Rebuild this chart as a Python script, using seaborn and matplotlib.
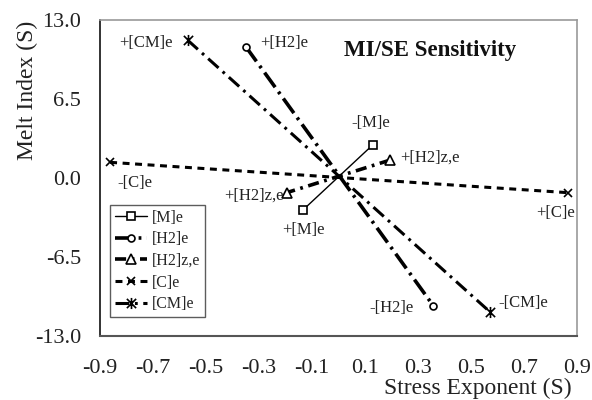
import matplotlib
matplotlib.use("Agg")
import matplotlib.pyplot as plt
from matplotlib.path import Path
import seaborn as sns
import pandas as pd

# Sensitivity end points: "+" perturbation and "-" perturbation for each factor
series = ["[M]e", "[H2]e", "[H2]z,e", "[C]e", "[CM]e"]
plus_x = [-0.133, -0.35, 0.195, -0.862, -0.57]
plus_y = [-2.6, 10.8, 1.48, 1.29, 11.35]
minus_x = [0.13, 0.357, -0.195, 0.867, 0.57]
minus_y = [2.75, -10.5, -1.2, -1.21, -11.0]

# Point labels (text, x, y)
label_text = ["+[CM]e", "+[H2]e", "-[M]e", "+[H2]z,e", "+[H2]z,e",
              "+[M]e", "-[C]e", "+[C]e", "-[H2]e", "-[CM]e"]
label_x = [-0.625, -0.296, 0.123, 0.232, -0.206, -0.134, -0.836, 0.817, 0.198, 0.602]
label_y = [11.1, 11.1, 4.5, 1.64, -1.45, -4.3, -0.42, -2.88, -10.7, -10.3]
label_ha = ["right", "left", "center", "left", "right", "center", "left", "center", "center", "left"]

x_ticks = [-0.9, -0.7, -0.5, -0.3, -0.1, 0.1, 0.3, 0.5, 0.7, 0.9]
y_ticks = [-13.0, -6.5, 0.0, 6.5, 13.0]

sns.set_theme(style="white")
plt.rcParams["font.family"] = ["Liberation Serif", "DejaVu Serif"]
plt.rcParams["lines.scale_dashes"] = False

# asterisk marker: an x with a vertical bar
star = Path([(-1, -1), (1, 1), (-1, 1), (1, -1), (0, -1.2), (0, 1.2)],
            [Path.MOVETO, Path.LINETO, Path.MOVETO, Path.LINETO, Path.MOVETO, Path.LINETO])

styles = {
    "[M]e": dict(lw=1.0, linestyle="-", marker="s", ms=6, mfc="white"),
    "[H2]e": dict(lw=2.6, linestyle=(0, (13, 4, 2, 4)), marker="o", ms=5, mfc="white"),
    "[H2]z,e": dict(lw=2.6, linestyle=(0, (8, 4, 2, 4)), marker="^", ms=7, mfc="white"),
    "[C]e": dict(lw=2.2, linestyle=(0, (5, 4)), marker="x", ms=6),
    "[CM]e": dict(lw=2.2, linestyle=(0, (10, 4, 2, 4)), marker=star, ms=8),
}

fig = plt.figure(figsize=(5.92, 4.0), dpi=100)
ax = fig.add_axes([0.169, 0.16, 0.806, 0.79])

for name, px, py, mx, my in zip(series, plus_x, plus_y, minus_x, minus_y):
    df = pd.DataFrame({"x": [px, mx], "y": [py, my]})
    st = styles[name]
    sns.lineplot(data=df, x="x", y="y", ax=ax, sort=False, estimator=None,
                 color="black", lw=st["lw"], linestyle=st["linestyle"],
                 marker=st["marker"], markersize=st["ms"],
                 markerfacecolor=st.get("mfc", "black"), markeredgecolor="black",
                 markeredgewidth=1.2, label=name)

for t, x, y, ha in zip(label_text, label_x, label_y, label_ha):
    ax.text(x, y, t, ha=ha, va="center", fontsize=12, color="#222222")

ax.text(0.345, 10.5, "MI/SE Sensitivity", ha="center", va="center",
        fontsize=16.5, fontweight="bold", color="#111111")

ax.set_xlim(-0.9, 0.9)
ax.set_ylim(-13.0, 13.0)
ax.set_xticks(x_ticks)
ax.set_xticklabels([f"{v:.1f}" for v in x_ticks])
ax.set_yticks(y_ticks)
ax.set_yticklabels([f"{v:.1f}" for v in y_ticks])
ax.tick_params(axis="both", direction="inout", length=11, width=1.0,
               color="#333333", labelcolor="#222222", labelsize=16)
ax.tick_params(axis="x", pad=11)
ax.tick_params(axis="y", pad=8)

ax.set_xlabel("")
ax.set_ylabel("")
fig.text(0.966, 0.03, "Stress Exponent (S)", ha="right", va="center",
         fontsize=17, color="#222222")
fig.text(0.047, 0.775, "Melt Index (S)", ha="center", va="center",
         rotation=90, fontsize=17, color="#222222")

for side in ["top", "right"]:
    ax.spines[side].set_color("#999999")
    ax.spines[side].set_linewidth(1.2)
ax.spines["left"].set_color("#111111")
ax.spines["left"].set_linewidth(1.2)
ax.spines["bottom"].set_color("#555555")
ax.spines["bottom"].set_linewidth(1.5)

leg = ax.legend(loc="lower left", bbox_to_anchor=(0.021, 0.06), fontsize=11.5,
                frameon=True, fancybox=False, shadow=False, handlelength=2.0,
                handletextpad=0.3, labelspacing=0.35, borderpad=0.3,
                borderaxespad=0, numpoints=1)
leg.get_frame().set_edgecolor("#333333")
leg.get_frame().set_linewidth(1.0)

fig.savefig("out.png", dpi=100, facecolor="white")
